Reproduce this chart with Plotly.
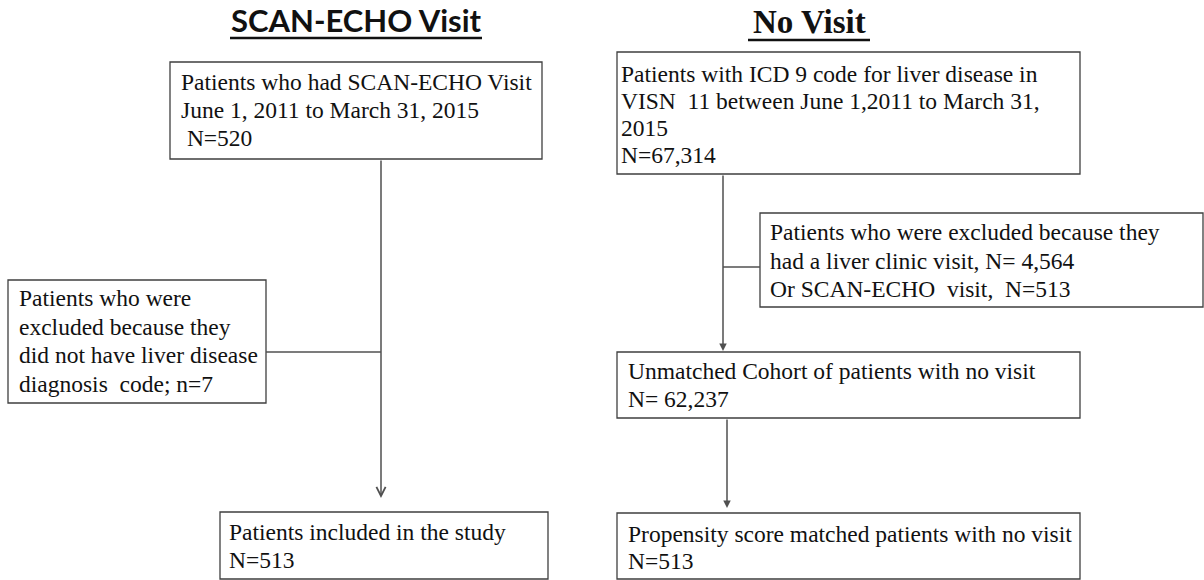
import plotly.graph_objects as go

# ---------------- data (text content) ----------------
titles = ["SCAN-ECHO Visit", "No Visit"]

box_ids = ["A", "B", "C", "D", "E", "F", "G"]
box_lines = {
    "A": ["Patients who had SCAN-ECHO Visit", "June 1, 2011 to March 31, 2015", "\u00a0N=520"],
    "B": ["Patients who were", "excluded because they", "did not have liver disease", "diagnosis\u00a0 code; n=7"],
    "C": ["Patients included in the study", "N=513"],
    "D": ["Patients with ICD 9 code for liver disease in", "VISN\u00a0 11 between June 1,2011 to March 31,", "2015", "N=67,314"],
    "E": ["Patients who were excluded because they", "had a liver clinic visit, N= 4,564", "Or SCAN-ECHO\u00a0 visit,\u00a0 N=513"],
    "F": ["Unmatched Cohort of patients with no visit", "N= 62,237"],
    "G": ["Propensity score matched patients with no visit", "N=513"],
}

# ---------------- layout geometry (pixels) ----------------
# box: (x0, y0, x1, y1, text_x, first_baseline, line_spacing)
box_geom = {
    "A": (170, 62, 542, 159, 180, 90, 28),
    "B": (8, 280, 266, 403, 18, 306, 28.5),
    "C": (220, 512, 548, 579, 228, 540, 28),
    "D": (617, 52, 1080, 174, 620, 82, 27),
    "E": (760, 213, 1203, 307, 769, 240, 28.5),
    "F": (617, 352, 1080, 418, 627, 379, 28),
    "G": (617, 513, 1080, 579, 627, 542, 27),
}
# connectors: (x0, y0, x1, y1)
plain_lines = [
    (266, 352, 381, 352),
    (723, 267, 760, 267),
]
# arrows: (tail_x, tail_y, tip_x, tip_y, head_style)
arrows = [
    (381, 159, 381, 498, 5),
    (723, 174, 723, 351, 2),
    (727, 418, 727, 508, 2),
]

BODY_FONT = "Liberation Serif"
BODY_SIZE = 23.5
BORDER = "#3f3f3f"
LINE = "#505050"

fig = go.Figure()
fig.add_trace(go.Scatter(x=[0, 1204], y=[0, 580], mode="markers",
                         marker=dict(opacity=0), hoverinfo="skip", showlegend=False))

shapes = []
annotations = []

for bid in box_ids:
    x0, y0, x1, y1, tx, bl, sp = box_geom[bid]
    shapes.append(dict(type="rect", xref="x", yref="y", x0=x0, y0=y0, x1=x1, y1=y1,
                       line=dict(color=BORDER, width=1.3), fillcolor="rgba(0,0,0,0)"))
    for i, line in enumerate(box_lines[bid]):
        baseline = bl + i * sp
        annotations.append(dict(x=tx, y=baseline - 0.3375 * BODY_SIZE, xref="x", yref="y",
                                text=line, showarrow=False, xanchor="left", yanchor="middle",
                                borderpad=0,
                                font=dict(family=BODY_FONT, size=BODY_SIZE, color="#111111")))

for (x0, y0, x1, y1) in plain_lines:
    shapes.append(dict(type="line", xref="x", yref="y", x0=x0, y0=y0, x1=x1, y1=y1,
                       line=dict(color=LINE, width=1.5)))

for (tx0, ty0, tx1, ty1, head) in arrows:
    annotations.append(dict(x=tx1, y=ty1, ax=tx0, ay=ty0, xref="x", yref="y",
                            axref="x", ayref="y", text="", showarrow=True,
                            arrowhead=head, arrowsize=1.2 if head == 5 else 1.0,
                            arrowwidth=1.5, arrowcolor=LINE, standoff=0, startstandoff=0))

# titles
annotations.append(dict(x=356, y=32 - 0.387 * 31, xref="x", yref="y", text="<b>%s</b>" % titles[0],
                        showarrow=False, xanchor="center", yanchor="middle", borderpad=0,
                        font=dict(family="Lato", size=31, color="#111111")))
annotations.append(dict(x=809, y=33 - 0.3375 * 33, xref="x", yref="y", text="<b>%s</b>" % titles[1],
                        showarrow=False, xanchor="center", yanchor="middle", borderpad=0,
                        font=dict(family=BODY_FONT, size=33, color="#111111")))
# title underlines
shapes.append(dict(type="line", xref="x", yref="y", x0=230, y0=38, x1=482, y1=38,
                   line=dict(color="#111111", width=2.5)))
shapes.append(dict(type="line", xref="x", yref="y", x0=748, y0=40, x1=870, y1=40,
                   line=dict(color="#111111", width=2.5)))

fig.update_layout(
    width=1204, height=580,
    margin=dict(l=0, r=0, t=0, b=0),
    paper_bgcolor="white", plot_bgcolor="white",
    xaxis=dict(range=[0, 1204], visible=False, fixedrange=True),
    yaxis=dict(range=[580, 0], visible=False, fixedrange=True),
    shapes=shapes, annotations=annotations, showlegend=False,
)

fig.write_html("out.html", config={"displayModeBar": False},
               post_script="document.body.style.margin='0px';")
